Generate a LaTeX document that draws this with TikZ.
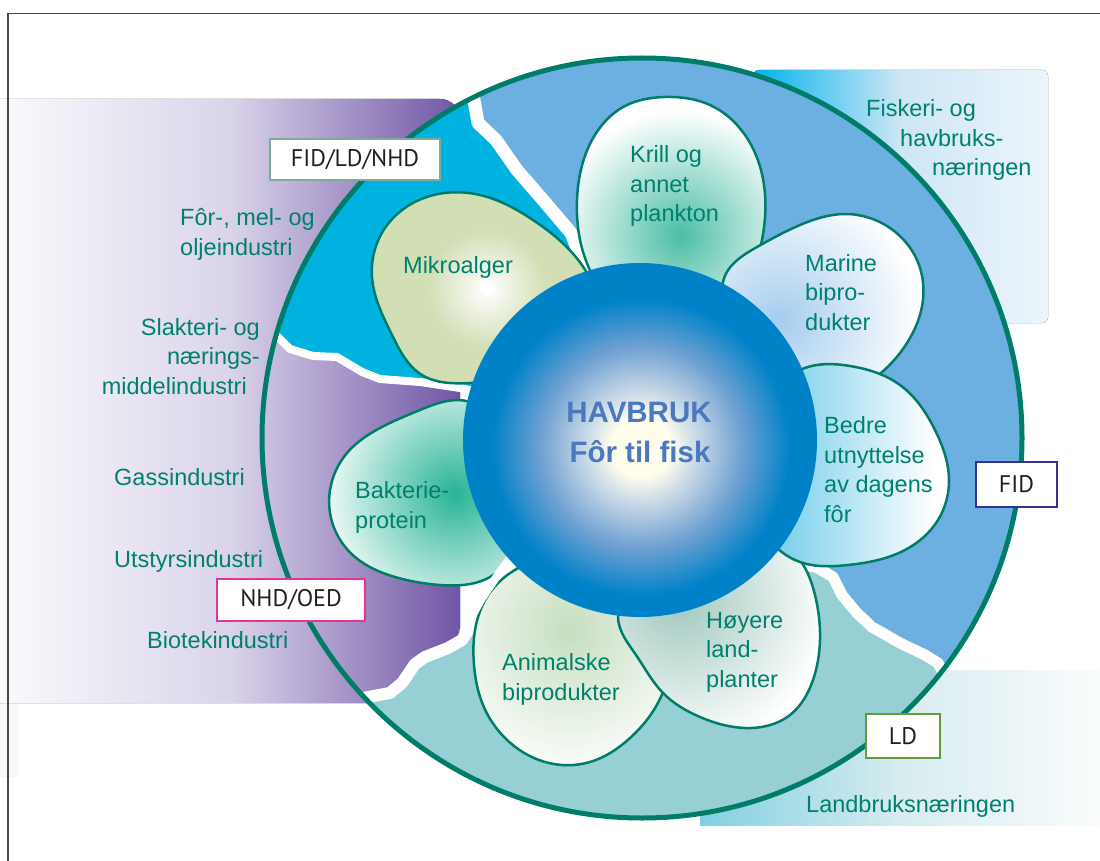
\documentclass[tikz,border=0pt]{standalone}
\usepackage{fontspec}
\setmainfont{Liberation Sans}
\newfontfamily\tagfont{PT Sans}
\usetikzlibrary{hobby}

% colours
\definecolor{ringteal}{RGB}{0,125,105}
\definecolor{labelteal}{RGB}{0,128,110}
\definecolor{seacyan}{RGB}{0,178,224}
\definecolor{seablue}{RGB}{108,176,225}
\definecolor{landteal}{RGB}{150,208,212}
\definecolor{stripgray}{RGB}{247,247,249}
\definecolor{purplepale}{RGB}{250,250,252}
\definecolor{purplemist}{RGB}{218,212,234}
\definecolor{purpledeep}{RGB}{112,86,165}
\definecolor{fishcyan}{RGB}{0,180,235}
\definecolor{fishmist}{RGB}{205,230,245}
\definecolor{fishpale}{RGB}{236,245,251}
\definecolor{landcyan}{RGB}{130,208,225}
\definecolor{landmist}{RGB}{215,236,240}
\definecolor{landpale}{RGB}{250,252,252}
\definecolor{coreblue}{RGB}{0,130,200}
\definecolor{coresky}{RGB}{110,160,210}
\definecolor{coremist}{RGB}{205,220,232}
\definecolor{corelight}{RGB}{255,253,235}
\definecolor{coretext}{RGB}{75,120,190}
\definecolor{mikrogreen}{RGB}{210,222,180}
\definecolor{krillteal}{RGB}{75,190,165}
\definecolor{marineblue}{RGB}{165,205,238}
\definecolor{bedrecyan}{RGB}{115,205,235}
\definecolor{hoyeregreen}{RGB}{160,200,190}
\definecolor{animalgreen}{RGB}{198,222,192}
\definecolor{bakterieteal}{RGB}{40,180,150}
\definecolor{tagblack}{RGB}{35,31,32}
\definecolor{nhdgray}{RGB}{130,170,155}
\definecolor{oedpink}{RGB}{232,50,150}
\definecolor{fidblue}{RGB}{50,50,150}
\definecolor{ldgreen}{RGB}{100,155,60}
\definecolor{framegray}{RGB}{70,70,70}

\pgfdeclareradialshading{coreglow}{\pgfpoint{0bp}{0bp}}{%
  color(0bp)=(corelight); color(5bp)=(corelight); color(9bp)=(coremist);
  color(17bp)=(coresky); color(25bp)=(coreblue); color(50bp)=(coreblue)}

\tikzset{
  ring line/.style={draw=ringteal, line width=5},
  petal line/.style={draw=ringteal, line width=2.5},
  petal curve/.style={use Hobby shortcut, closed=true},
  seam/.style={draw=white, line join=round, line cap=round},
  label text/.style={text=labelteal, inner sep=0, align=left,
    font=\fontsize{23.5}{29.5}\selectfont},
  core text/.style={text=coretext, inner sep=0, anchor=base,
    font=\fontsize{29.5}{36}\selectfont\bfseries},
  tag box/.style={fill=white, line width=2.5, inner sep=0, text=tagblack,
    font=\tagfont\fontsize{24}{28}\selectfont},
}

% clip to the petal, paint its inside, then outline it
\newcommand\petal[2]{%
  \begin{scope}
    \clip[petal curve] #1;
    #2
  \end{scope}
  \draw[petal line, petal curve] #1;}

\begin{document}
\begin{tikzpicture}[x=1pt, y=-1pt]
\useasboundingbox (0,0) rectangle (1100,861);

% panels behind the ring
\fill[stripgray] (0,99) rectangle (18,777);
\fill[left color=purplepale, right color=purpledeep, middle color=purplemist]
  (0,703) -- (0,99) [rounded corners=20] -- (460,99) [sharp corners] -- (460,703) -- cycle;
\fill[left color=fishcyan, right color=fishpale, middle color=fishmist, rounded corners=6]
  (753,70) rectangle (1048,323);
\fill[left color=landcyan, right color=landpale, middle color=landmist]
  (700,670) rectangle (1100,825);

% sectors inside the ring
\begin{scope}
  \clip (642,438) circle (380);
  \fill[seacyan] (200,330) -- (277,336) -- (290,349) -- (313,356) -- (337,357) -- (362,372)
    -- (380,379) -- (420,382) -- (460,388) -- (500,395) -- (640,440) -- (592,275) -- (582,260)
    -- (571,233) -- (543,200) -- (517,170) -- (496,140) -- (478,123) -- (474,100) -- (470,40)
    -- (200,40) -- cycle;
  \fill[seablue] (470,40) -- (474,100) -- (478,123) -- (496,140) -- (517,170) -- (543,200)
    -- (571,233) -- (582,260) -- (592,275) -- (640,440) -- (795,562) -- (818,568) -- (833,577)
    -- (842,595) -- (857,613) -- (872,627) -- (900,643) -- (925,655) -- (938,663) -- (943,672)
    -- (960,700) -- (1060,700) -- (1060,40) -- cycle;
  \fill[landteal] (640,440) -- (795,562) -- (818,568) -- (833,577) -- (842,595) -- (857,613)
    -- (872,627) -- (900,643) -- (925,655) -- (938,663) -- (943,672) -- (960,700) -- (1060,900)
    -- (300,900) -- (340,700) -- (368,697) -- (390,693) -- (402,683) -- (415,664) -- (425,657)
    -- (448,648) -- (462,640) -- (467,632) -- (477,620) -- (495,590) -- (510,565) -- cycle;
  % white seams between the sectors
  \draw[seam, line width=13] plot coordinates {(470,88) (474,100) (478,123) (496,140) (517,170)
    (543,200) (571,233) (582,260) (592,275) (605,295)};
  \draw[seam, line width=8] plot coordinates {(268,333) (277,336) (290,349) (313,356) (337,357)
    (362,372) (380,379) (420,382) (460,388) (480,392)};
  \draw[seam, line width=11] plot coordinates {(790,560) (818,568) (833,577) (842,595) (857,613)
    (872,627) (900,643) (925,655) (938,663) (943,672) (950,685)};
  \draw[seam, line width=12] plot coordinates {(355,700) (368,697) (390,693) (402,683) (415,664)
    (425,657) (448,648) (462,640) (467,632) (477,620) (495,590) (510,565)};
\end{scope}
\draw[ring line] (642,438) circle (380);

% petals
\petal{(372,277) .. (385,228) .. (430,196) .. (480,195) .. (533,220) .. (575,256)
    .. (595,300) .. (560,360) .. (470,383) .. (422,375) .. (392,335)}
  {\fill[mikrogreen] (340,180) rectangle (620,400);
   \shade[inner color=white, outer color=mikrogreen] (487,289) circle (60);
   \fill[white] (487,289) circle (7);}
\petal{(347,453) .. (330,490) .. (333,525) .. (355,557) .. (395,577) .. (440,585)
    .. (496,573) .. (520,520) .. (505,440) .. (470,402) .. (420,410) .. (380,428)}
  {\fill[white] (320,390) rectangle (530,600);
   \shade[inner color=bakterieteal, outer color=white] (455,493) circle (140);}
\petal{(487,597) .. (475,630) .. (474,665) .. (483,705) .. (505,738) .. (545,762)
    .. (590,762) .. (630,738) .. (663,692) .. (668,640) .. (620,575) .. (540,560)}
  {\fill[white] (460,550) rectangle (680,770);
   \shade[inner color=animalgreen, outer color=white] (570,630) circle (150);}
\draw[seam, line width=8] (463,632) -- (481,600) -- (499,573) -- (522,542);
\petal{(618,617) .. (636,655) .. (663,693) .. (700,717) .. (745,728) .. (790,715)
    .. (813,680) .. (820,640) .. (815,595) .. (800,560) .. (760,535) .. (680,560)}
  {\fill[white] (600,530) rectangle (830,735);
   \shade[inner color=hoyeregreen, outer color=white] (680,600) circle (150);}
\petal{(577,200) .. (592,140) .. (625,106) .. (665,97) .. (710,105) .. (745,135)
    .. (764,185) .. (762,240) .. (740,295) .. (680,330) .. (615,305) .. (584,255)}
  {\fill[white] (560,90) rectangle (780,340);
   \shade[inner color=krillteal, outer color=white] (680,235) circle (125);}
\petal{(723,282) .. (757,247) .. (800,225) .. (845,214) .. (890,228) .. (917,260)
    .. (923,300) .. (907,343) .. (872,380) .. (820,395) .. (760,345)}
  {\fill[white] (710,205) rectangle (935,410);
   \shade[inner color=marineblue, outer color=white] (780,320) circle (140);}
\petal{(800,370) .. (850,366) .. (900,385) .. (935,430) .. (949,480) .. (938,520)
    .. (905,550) .. (848,565) .. (800,562) .. (770,540) .. (755,460)}
  {\shade[left color=bedrecyan, right color=white] (770,360) rectangle (935,575);
   \fill[white] (935,360) rectangle (960,575);}

% the core
\fill[coreblue] (640,440) circle (177);
\shade[shading=coreglow] (641,447) circle (149);
\node[core text] (havbruk) at (639,422) {HAVBRUK};
\node[core text] (forfisk) at (640,462) {Fôr til fisk};

% petal labels (base = last line)
\node[label text, anchor=base west] (mikro) at (403,273) {Mikroalger};
\node[label text, anchor=base west] (krill) at (630,222) {Krill og\\annet\\plankton};
\node[label text, anchor=base west] (marine) at (805,330) {Marine\\bipro-\\dukter};
\node[label text, anchor=base west] (bedre) at (824,522) {Bedre\\utnyttelse\\av dagens\\fôr};
\node[label text, anchor=base west] (bakterie) at (355,528) {Bakterie-\\protein};
\node[label text, anchor=base west] (animal) at (502,700) {Animalske\\biprodukter};
\node[label text, anchor=base west] (hoyere) at (706,687) {Høyere\\land-\\planter};

% industries and trades
\node[label text, anchor=base west] (feed) at (180,255) {Fôr-, mel- og\\oljeindustri};
\node[label text, anchor=base east, align=right] (slaughter) at (260,394)
  {Slakteri- og\\nærings-\hspace*{7pt}\\middelindustri\hspace*{13pt}};
\node[label text, anchor=base west] (gas) at (114,485) {Gassindustri};
\node[label text, anchor=base west] (equipment) at (114,567) {Utstyrsindustri};
\node[label text, anchor=base west] (biotech) at (147,648) {Biotekindustri};
\node[label text, anchor=base west] (fish) at (866,176)
  {Fiskeri- og\\\hspace*{34pt}havbruks-\\\hspace*{66pt}næringen};
\node[label text, anchor=base west] (land) at (806,812) {Landbruksnæringen};

% organisation tags
\node[tag box, draw=nhdgray, minimum width=170, minimum height=41] (fidldnhd) at (355,159.5) {FID/LD/NHD};
\node[tag box, draw=oedpink, minimum width=148, minimum height=42] (nhdoed) at (291,600) {NHD/OED};
\node[tag box, draw=fidblue, minimum width=81, minimum height=45] (fid) at (1016.5,484.5) {FID};
\node[tag box, draw=ldgreen, minimum width=74, minimum height=44] (ld) at (903,736) {LD};

% frame
\draw[framegray, line width=1.2] (8,861) -- (8,13.5) -- (1100,13.5);
\end{tikzpicture}
\end{document}
